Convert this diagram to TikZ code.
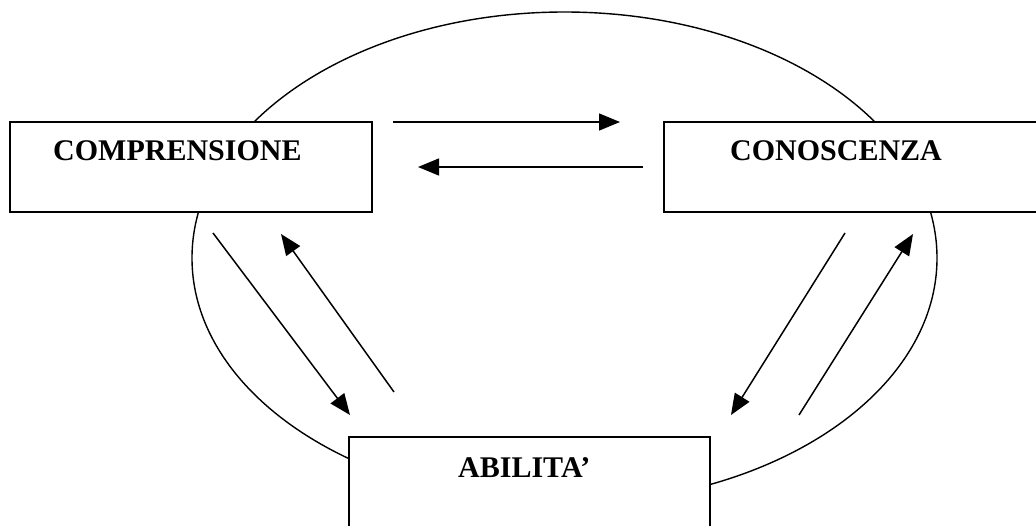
\documentclass[tikz,border=0pt]{standalone}
\usepackage{fontspec}
\setmainfont{Liberation Serif}
\usetikzlibrary{arrows.meta}
\tikzset{
  box/.style={draw=black, line width=1.6pt, fill=white, rectangle, inner sep=0pt},
  lbl/.style={anchor=base west, inner sep=0pt, font=\bfseries\fontsize{30}{31}\selectfont},
  link/.style={line width=1.5pt, -{Triangle[length=21pt,width=17pt]}},
}
\begin{document}
\begin{tikzpicture}[x=1pt,y=-1pt]
\useasboundingbox (0,0) rectangle (1036,525);
\clip (0,0) rectangle (1036,525);
% ellipse
\draw[line width=1.4pt] (564.5,258) ellipse [x radius=372.5pt, y radius=246pt];
% boxes
\node[box, minimum width=362pt, minimum height=90pt] (comp) at (191,167) {};
\node[box, minimum width=400pt, minimum height=90pt] (cono) at (864,167) {};
\node[box, minimum width=361pt, minimum height=110pt] (abil) at (529.5,492) {};
% labels
\node[lbl] (tcomp) at (53,160) {COMPRENSIONE};
\node[lbl] (tcono) at (730,160) {CONOSCENZA};
\node[lbl] (tabil) at (458,477) {ABILITA’};
% arrow end points
\coordinate (a1s) at (393,122);  \coordinate (a1e) at (620,122);
\coordinate (a2s) at (643,167);  \coordinate (a2e) at (418,167);
\coordinate (a3s) at (213,233);  \coordinate (a3e) at (350,415);
\coordinate (a4s) at (394,392);  \coordinate (a4e) at (281,234);
\coordinate (a5s) at (845,233);  \coordinate (a5e) at (731,415);
\coordinate (a6s) at (799,415);  \coordinate (a6e) at (913,234);
\draw[link] (a1s) -- (a1e);
\draw[link] (a2s) -- (a2e);
\draw[link] (a3s) -- (a3e);
\draw[link] (a4s) -- (a4e);
\draw[link] (a5s) -- (a5e);
\draw[link] (a6s) -- (a6e);
\end{tikzpicture}
\end{document}
